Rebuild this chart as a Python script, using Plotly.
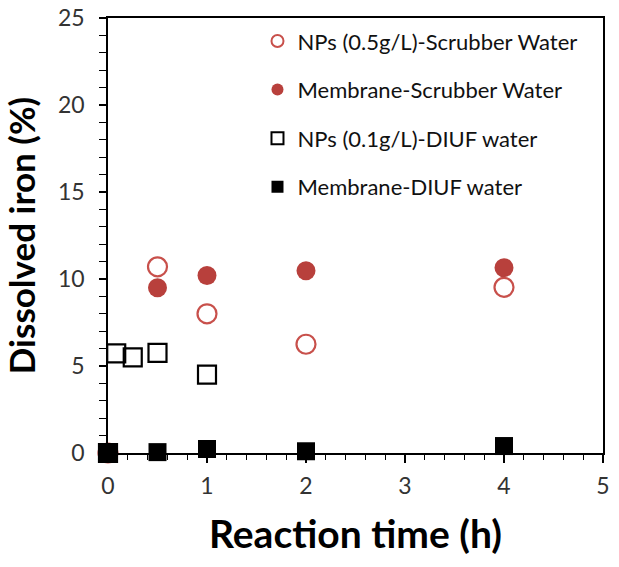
import plotly.graph_objects as go

# Data
np_scrub_x = [0, 0.5, 1, 2, 4]
np_scrub_y = [0, 10.7, 8.0, 6.25, 9.52]

mem_scrub_x = [0, 0.5, 1, 2, 4]
mem_scrub_y = [0, 9.5, 10.2, 10.47, 10.65]

np_diuf_x = [0, 0.083, 0.25, 0.5, 1]
np_diuf_y = [0, 5.72, 5.5, 5.75, 4.5]

mem_diuf_x = [0, 0.5, 1, 2, 4]
mem_diuf_y = [0, 0.05, 0.23, 0.1, 0.4]

names = ["NPs (0.5g/L)-Scrubber Water", "Membrane-Scrubber Water",
         "NPs (0.1g/L)-DIUF water", "Membrane-DIUF water"]
x_ticks = [0, 1, 2, 3, 4, 5]
y_ticks = [0, 5, 10, 15, 20, 25]

RED = "#B8403C"
FONT = "Lato"

fig = go.Figure()
fig.add_trace(go.Scatter(x=np_scrub_x, y=np_scrub_y, mode="markers", name=names[0],
                         legendgroup="a", cliponaxis=False,
                         marker=dict(symbol="circle-open", size=19, color="#C8504B",
                                     line=dict(width=2.2, color="#C8504B"))))
fig.add_trace(go.Scatter(x=mem_scrub_x, y=mem_scrub_y, mode="markers", name=names[1],
                         legendgroup="b", cliponaxis=False,
                         marker=dict(symbol="circle", size=19, color=RED,
                                     line=dict(width=0))))
fig.add_trace(go.Scatter(x=np_diuf_x, y=np_diuf_y, mode="markers", name=names[2],
                         legendgroup="c", cliponaxis=False,
                         marker=dict(symbol="square-open", size=18, color="black",
                                     line=dict(width=2.2, color="black"))))
fig.add_trace(go.Scatter(x=mem_diuf_x, y=mem_diuf_y, mode="markers", name=names[3],
                         legendgroup="d", cliponaxis=False,
                         marker=dict(symbol="square", size=18, color="black",
                                     line=dict(width=0))))

fig.update_layout(
    width=619, height=567,
    margin=dict(l=108, r=16, t=18, b=114, autoexpand=False),
    paper_bgcolor="white", plot_bgcolor="white",
    font=dict(family=FONT, color="#222"),
    showlegend=True,
    legend=dict(x=0.302, y=0.995, xanchor="left", yanchor="top",
                bgcolor="rgba(0,0,0,0)", font=dict(size=22, family=FONT, color="#111"),
                tracegroupgap=17, itemsizing="constant"),
    xaxis=dict(range=[0, 5], tickvals=x_ticks, showline=True, mirror=True,
               linecolor="black", linewidth=1.5, ticks="outside", ticklen=8,
               tickwidth=1.5, tickcolor="black", showgrid=False, zeroline=False,
               ticklabelstandoff=4, automargin=False,
               tickfont=dict(size=23, family=FONT, color="#333"),
               minor=dict(dtick=0.2, ticks="outside", ticklen=5, tickwidth=1.2,
                          tickcolor="black", showgrid=False),
               title=dict(text="<b>Reaction time (h)</b>", font=dict(size=39, family=FONT, color="black"),
                          standoff=22)),
    yaxis=dict(range=[0, 25], tickvals=y_ticks, showline=True, mirror=True,
               linecolor="black", linewidth=1.5, ticks="outside", ticklen=7,
               tickwidth=1.5, tickcolor="black", showgrid=False, zeroline=False,
               ticklabelstandoff=10, automargin=False,
               tickfont=dict(size=23, family=FONT, color="#333"),
               minor=dict(dtick=1, ticks="outside", ticklen=7, tickwidth=1.2,
                          tickcolor="black", showgrid=False),
               title=dict(text="<b>Dissolved iron (%)</b>", font=dict(size=35, family=FONT, color="black"),
                          standoff=12)),
)

fig.write_html("out.html", config={"displayModeBar": False},
               post_script="document.body.style.margin='0px';")
